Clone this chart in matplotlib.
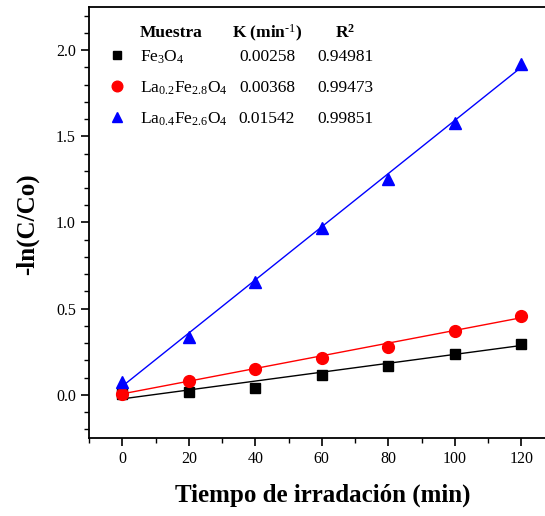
import matplotlib
matplotlib.use("Agg")
import matplotlib.pyplot as plt
import numpy as np

plt.rcParams['font.family'] = ['Liberation Serif', 'DejaVu Serif']
plt.rcParams['mathtext.fontset'] = 'custom'
plt.rcParams['mathtext.rm'] = 'Liberation Serif'
plt.rcParams['mathtext.it'] = 'Liberation Serif:italic'
plt.rcParams['mathtext.bf'] = 'Liberation Serif:bold'
plt.rcParams['mathtext.default'] = 'regular'

# data
time_min = [0, 20, 40, 60, 80, 100, 120]
fe3o4 = [0.006, 0.015, 0.040, 0.118, 0.166, 0.240, 0.296]
la02 = [0.006, 0.079, 0.151, 0.213, 0.279, 0.370, 0.459]
la04 = [0.072, 0.333, 0.653, 0.966, 1.250, 1.580, 1.920]

sample_labels = [r'Fe$_3$O$_4$', r'La$_{0.2}$Fe$_{2.8}$O$_4$', r'La$_{0.4}$Fe$_{2.6}$O$_4$']
k_values = ['0.00258', '0.00368', '0.01542']
r2_values = ['0.94981', '0.99473', '0.99851']
fit_slopes = [0.00258, 0.00368, 0.01542]
fit_intercepts = [-0.023, 0.006, 0.050]

colors = ['black', 'red', 'blue']
markers = ['s', 'o', '^']
msizes = [7, 8.5, 8.5]
series = [fe3o4, la02, la04]

W, H = 545, 516
fig = plt.figure(figsize=(W / 100, H / 100), dpi=100)
x0, x1 = -10, 130
px_per_unit = 3.325
left_px, top_px, bottom_px = 89, 7, 438
ax = fig.add_axes([left_px / W, 1 - bottom_px / H,
                   (x1 - x0) * px_per_unit / W, (bottom_px - top_px) / H])

t = np.array(time_min)
for ys, c, m, ms, k, b in zip(series, colors, markers, msizes, fit_slopes, fit_intercepts):
    ax.plot(t, b + k * t, color=c, lw=1.0, zorder=2)
    ax.plot(t, ys, linestyle='none', marker=m, color=c, markersize=ms, zorder=3)

ax.set_xlim(x0, x1)
ax.set_ylim(-0.25, 2.25)
ax.set_xticks([0, 20, 40, 60, 80, 100, 120])
ax.set_xticks(np.arange(-10, 131, 10), minor=True)
ax.set_yticks([0.0, 0.5, 1.0, 1.5, 2.0])
ax.set_yticks(np.arange(-0.2, 2.25, 0.1), minor=True)
ax.yaxis.set_major_formatter(matplotlib.ticker.FormatStrFormatter('%.1f'))
ax.tick_params(which='major', direction='out', length=6, width=1.2, labelsize=11.5)
ax.tick_params(which='minor', direction='out', length=3.5, width=1.0)
for s in ax.spines.values():
    s.set_linewidth(1.3)
ax.spines['right'].set_visible(False)

fig.text(323 / W, 1 - 495 / H, 'Tiempo de irradación (min)', fontsize=18,
         fontweight='bold', ha='center', va='center')
fig.text(27 / W, 1 - 224 / H, '-ln(C/Co)', fontsize=18, fontweight='bold',
         ha='center', va='center', rotation=90)

# legend table
fs = 12.5
fig.text(140 / W, 1 - 33 / H, 'Muestra', fontsize=fs, fontweight='bold', va='center', ha='left')
fig.text(267 / W, 1 - 33 / H, r'K (min$^{\text{-1}}$)', fontsize=fs, fontweight='bold', va='center', ha='center')
fig.text(345 / W, 1 - 33 / H, r'R$^{\mathbf{2}}$', fontsize=fs, fontweight='bold', va='center', ha='center')
row_y = [57, 88, 119]
for lab, kv, rv, c, m, ms, yy in zip(sample_labels, k_values, r2_values, colors, markers, msizes, row_y):
    fig.lines.append(matplotlib.lines.Line2D([117 / W], [1 - (yy - 2) / H], transform=fig.transFigure,
                                             marker=m, color=c, markersize=ms * 0.9, linestyle='none'))
    fig.text(140 / W, 1 - yy / H, lab, fontsize=fs, va='center', ha='left')
    fig.text(267 / W, 1 - yy / H, kv, fontsize=fs, va='center', ha='center')
    fig.text(345 / W, 1 - yy / H, rv, fontsize=fs, va='center', ha='center')

fig.savefig('out.png', dpi=100)
